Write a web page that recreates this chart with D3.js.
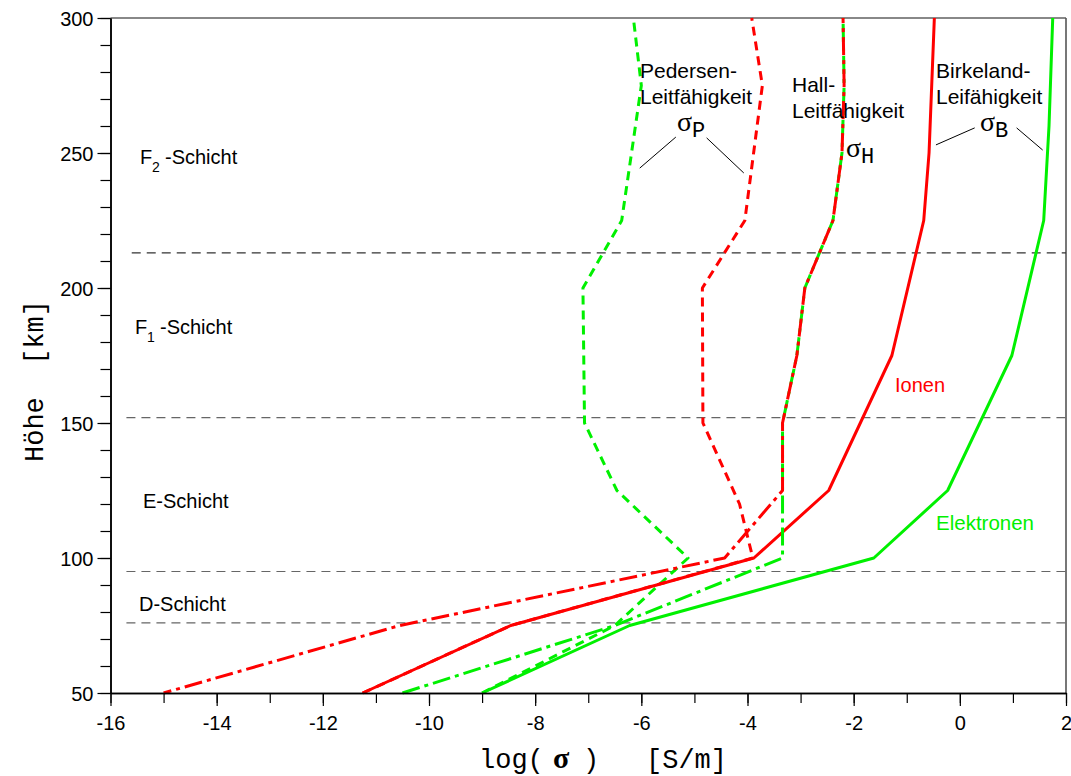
<!DOCTYPE html>
<html><head><meta charset="utf-8">
<script src="https://cdn.jsdelivr.net/npm/d3@7"></script>
<style>body{margin:0;background:#fff} svg{display:block}</style>
</head><body>
<script>
// ---------- data (log10 sigma [S/m] vs. height [km]) ----------
// Pedersen conductivity
const pedIonH = [50, 75, 100, 120, 150, 200, 225, 275, 300];
const pedIonX = [-11.25, -8.46, -3.9, -4.15, -4.84, -4.85, -4.05, -3.72, -3.92];
const pedElH  = [50, 75, 100, 125, 150, 200, 225, 275, 300];
const pedElX  = [-9.0, -6.5, -5.12, -6.46, -7.07, -7.1, -6.37, -6.0, -6.15];
// Hall conductivity
const hallIonH = [50, 75, 100, 125, 150, 175, 200, 225, 250, 275, 300];
const hallIonX = [-15.0, -10.55, -4.43, -3.34, -3.34, -3.07, -2.92, -2.39, -2.22, -2.18, -2.2];
const hallElH  = [50, 75, 100, 125, 150, 175, 200, 225, 250, 275, 300];
const hallElX  = [-10.5, -6.5, -3.34, -3.34, -3.34, -3.07, -2.92, -2.39, -2.22, -2.18, -2.2];
// Birkeland (parallel) conductivity
const birkIonH = [50, 75, 100, 125, 175, 225, 250, 300];
const birkIonX = [-11.25, -8.46, -3.88, -2.47, -1.28, -0.68, -0.58, -0.48];
const birkElH  = [50, 75, 100, 125, 175, 225, 260, 300];
const birkElX  = [-9.0, -6.22, -1.62, -0.23, 0.98, 1.58, 1.68, 1.75];
// layer boundaries [km]
const layerBounds = [213, 152, 95, 76];
// axis ticks
const xTickValues = [-16, -14, -12, -10, -8, -6, -4, -2, 0, 2];
const xMinorValues = d3.range(-16, 2.5, 1);
const yTickValues = [50, 100, 150, 200, 250, 300];
const yMinorValues = d3.range(50, 301, 10);

// ---------- chart ----------
const W = 1071, H = 776;
const RED = "#ff0000", GREEN = "#00f000";
const SANS = "'Liberation Sans', Arial, sans-serif";
const MONO = "'Liberation Mono', 'Courier New', monospace";
const SERIF = "'Liberation Serif', 'Times New Roman', serif";

const svg = d3.select("body").append("svg").attr("width", W).attr("height", H);
const x = d3.scaleLinear().domain([-16, 2]).range([110.5, 1066]);
const y = d3.scaleLinear().domain([50, 300]).range([693, 18]);

// frame (top & right)
svg.append("line").attr("x1", x(-16)).attr("x2", x(2)).attr("y1", y(300)).attr("y2", y(300))
  .attr("stroke", "#888").attr("stroke-width", 2);
svg.append("line").attr("x1", x(2)).attr("x2", x(2)).attr("y1", y(300)).attr("y2", y(50))
  .attr("stroke", "#555").attr("stroke-width", 1.6);

// layer boundaries
svg.selectAll("line.layer").data(layerBounds).enter().append("line")
  .attr("class", "layer")
  .attr("x1", (d, i) => i === 0 ? x(-15.6) : x(-15.7)).attr("x2", x(2))
  .attr("y1", d => y(d)).attr("y2", d => y(d))
  .attr("stroke", (d, i) => i === 0 ? "#333" : "#666")
  .attr("stroke-width", 1.2).attr("stroke-dasharray", "9,6");

// curves
const line = d3.line().x(d => x(d[0])).y(d => y(d[1]));
const zip = (xs, hs) => xs.map((v, i) => [v, hs[i]]);
const DASH = "9,6", DASHDOT = "18,5,4,5";
const series = [
  {xs: pedElX, hs: pedElH, color: GREEN, dash: DASH},
  {xs: pedIonX, hs: pedIonH, color: RED, dash: DASH},
  {xs: birkElX, hs: birkElH, color: GREEN, dash: null},
  {xs: birkIonX, hs: birkIonH, color: RED, dash: null},
  {xs: hallElX, hs: hallElH, color: GREEN, dash: DASHDOT},
  {xs: hallIonX, hs: hallIonH, color: RED, dash: DASHDOT, offset: 10}
];
series.forEach(s => {
  svg.append("path").datum(zip(s.xs, s.hs)).attr("d", line)
    .attr("fill", "none").attr("stroke", s.color).attr("stroke-width", 3)
    .attr("stroke-linejoin", "round")
    .attr("stroke-dasharray", s.dash)
    .attr("stroke-dashoffset", s.offset || 0);
});

// axes
function styleAxis(g) {
  g.select(".domain").attr("stroke", "#000").attr("stroke-width", 1.5);
  g.selectAll(".tick line").attr("stroke", "#000").attr("stroke-width", 1.2);
  g.selectAll("text").attr("font-family", SANS).attr("font-size", 20).attr("fill", "#000");
}
svg.append("g").attr("transform", `translate(0,${y(50)})`)
  .call(d3.axisBottom(x).tickValues(xMinorValues).tickSize(10).tickSizeOuter(0).tickFormat(""))
  .call(styleAxis);
const gx = svg.append("g").attr("transform", `translate(0,${y(50)})`)
  .call(d3.axisBottom(x).tickValues(xTickValues).tickSize(13).tickSizeOuter(0).tickFormat(d3.format("d")))
  .call(styleAxis);
gx.selectAll(".tick text").attr("y", 37).attr("dy", 0);
gx.selectAll(".tick text").text(d => d < 0 ? "-" + Math.abs(d) : String(d));

svg.append("g").attr("transform", `translate(${x(-16)},0)`)
  .call(d3.axisLeft(y).tickValues(yMinorValues).tickSize(10).tickSizeOuter(0).tickFormat(""))
  .call(styleAxis);
const gy = svg.append("g").attr("transform", `translate(${x(-16)},0)`)
  .call(d3.axisLeft(y).tickValues(yTickValues).tickSize(13).tickSizeOuter(0).tickFormat(d3.format("d")))
  .call(styleAxis);
gy.selectAll(".tick text").attr("x", -17).attr("dy", "0.36em");

// axis titles
const xt = svg.append("text").attr("y", 768).attr("font-family", MONO).attr("font-size", 27).attr("fill", "#000");
xt.append("tspan").attr("x", 479).text("log(");
xt.append("tspan").attr("x", 553).attr("font-family", SERIF).attr("font-weight", "bold").attr("font-size", 30).text("σ");
xt.append("tspan").attr("x", 583).text(")");
xt.append("tspan").attr("x", 646).text("[S/m]");

svg.append("text").attr("transform", "translate(43,381) rotate(-90)")
  .attr("text-anchor", "middle").attr("font-family", MONO).attr("font-size", 27).attr("fill", "#000")
  .attr("xml:space", "preserve").text("Höhe  [km]");

// layer labels
function subLabel(xp, yp, main, sub, subX, restX, rest) {
  const t = svg.append("text").attr("x", xp).attr("y", yp)
    .attr("font-family", SANS).attr("font-size", 20).attr("fill", "#000");
  t.append("tspan").text(main);
  t.append("tspan").attr("x", subX).attr("dy", 8).attr("font-size", 14).text(sub);
  t.append("tspan").attr("x", restX).attr("dy", -8).text(rest);
}
subLabel(140, 164, "F", "2", 152, 165, "-Schicht");
subLabel(135, 334, "F", "1", 147, 160, "-Schicht");
const plain = (xp, yp, s, color, fs) => svg.append("text").attr("x", xp).attr("y", yp)
  .attr("font-family", SANS).attr("font-size", fs || 20).attr("fill", color || "#000").text(s);
plain(143, 508, "E-Schicht");
plain(139, 611, "D-Schicht");

// conductivity labels
plain(640, 78, "Pedersen-", null, 21);
plain(640, 104, "Leitfähigkeit", null, 21);
plain(792, 92, "Hall-", null, 21);
plain(792, 118, "Leitfähigkeit", null, 21);
plain(936, 78, "Birkeland-", null, 21);
plain(936, 104, "Leifähigkeit", null, 21);
plain(895, 392, "Ionen", RED, 20);
plain(936, 530, "Elektronen", GREEN, 20.5);

function sigma(xp, yp, sub) {
  const t = svg.append("text").attr("x", xp).attr("y", yp).attr("fill", "#000");
  t.append("tspan").attr("font-family", SERIF).attr("font-size", 28).text("σ");
  t.append("tspan").attr("font-family", MONO).attr("font-size", 22).attr("dy", 6).text(sub);
}
sigma(677, 131, "P");
sigma(846, 157, "H");
sigma(980, 131, "B");

// pointer lines (data coordinates)
const pointers = [
  [[-5.35, 255.9], [-6.03, 244.4]],
  [[-4.77, 255.6], [-4.07, 242.6]],
  [[0.28, 259.3], [-0.45, 253.0]],
  [[1.07, 259.3], [1.56, 251.1]]
];
svg.selectAll("line.ptr").data(pointers).enter().append("line").attr("class", "ptr")
  .attr("x1", d => x(d[0][0])).attr("y1", d => y(d[0][1]))
  .attr("x2", d => x(d[1][0])).attr("y2", d => y(d[1][1]))
  .attr("stroke", "#000").attr("stroke-width", 1);
</script>
</body></html>
